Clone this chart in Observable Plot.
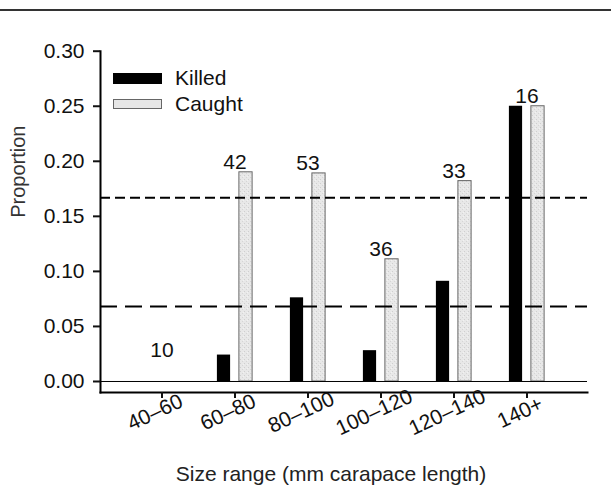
<!DOCTYPE html>
<html>
<head>
<meta charset="utf-8">
<script src="https://cdn.jsdelivr.net/npm/d3@7"></script>
<script src="https://cdn.jsdelivr.net/npm/@observablehq/plot@0.6"></script>
<style>
  html, body { margin: 0; padding: 0; background: #fff; }
  body { width: 611px; height: 487px; overflow: hidden; position: relative; font-family: "Liberation Sans", Arial, sans-serif; }
  .topline { height: 9px; border-bottom: 2px solid #333; }
  .legend { position: absolute; left: 113px; top: 65px; font-size: 21px; color: #111; }
  .legend .row { display: flex; align-items: center; height: 26px; }
  .legend .sw { width: 49px; height: 11px; margin-right: 13px; box-sizing: border-box; }
  .legend .killed { background: #000; }
  .legend .caught { background: #e6e6e6; border: 1px solid #666; height: 10px; }
</style>
</head>
<body>
<svg width="0" height="0" style="position:absolute">
  <defs>
    <pattern id="stipple" width="4" height="4" patternUnits="userSpaceOnUse">
      <rect width="4" height="4" fill="#e8e8e8"></rect>
      <rect x="0" y="0" width="1" height="1" fill="#cfcfcf"></rect>
      <rect x="2" y="2" width="1" height="1" fill="#d6d6d6"></rect>
      <rect x="3" y="1" width="1" height="1" fill="#f2f2f2"></rect>
    </pattern>
  </defs>
</svg>
<div class="topline"></div>
<div id="chart"></div>
<div class="legend">
  <div class="row"><div class="sw killed"></div><span>Killed</span></div>
  <div class="row"><div class="sw caught"></div><span>Caught</span></div>
</div>
<script>
const sizeClasses = ["40–60", "60–80", "80–100", "100–120", "120–140", "140+"];
const killed = [0, 0.024, 0.076, 0.028, 0.091, 0.25];
const caught = [0, 0.190, 0.189, 0.111, 0.182, 0.25];
const sampleSizes = [10, 42, 53, 36, 33, 16];
const referenceLines = [0.167, 0.068];
const yTicks = [0, 0.05, 0.10, 0.15, 0.20, 0.25, 0.30];

const rows = sizeClasses.map((s, i) => ({
  size: s, killed: killed[i], caught: caught[i], n: sampleSizes[i],
  top: Math.max(killed[i], caught[i])
}));

const font = "Liberation Sans, Arial, sans-serif";

const chart = Plot.plot({
  width: 611,
  height: 476,
  marginLeft: 100,
  marginRight: 24,
  marginTop: 39.7,
  marginBottom: 95,
  style: { fontFamily: font, color: "#111", background: "#fff" },
  x: { domain: sizeClasses, paddingInner: 0, paddingOuter: 0.3, axis: null },
  y: { domain: [-0.01, 0.30], axis: null },
  marks: [
    Plot.barY(rows, { x: "size", y: "caught", fill: "url(#stipple)", stroke: "#666", strokeWidth: 1, insetLeft: 40.9, insetRight: 18.9 }),
    Plot.barY(rows, { x: "size", y: "killed", fill: "#000", insetLeft: 18.9, insetRight: 40.9 }),
    Plot.ruleY([0], { stroke: "#000", strokeWidth: 1 }),
    Plot.ruleY([referenceLines[0]], { stroke: "#000", strokeWidth: 2, strokeDasharray: "10,5" }),
    Plot.ruleY([referenceLines[1]], { stroke: "#000", strokeWidth: 2, strokeDasharray: "17,8" }),
    Plot.frame({ anchor: "left", stroke: "#000", strokeWidth: 2 }),
    Plot.frame({ anchor: "bottom", stroke: "#000", strokeWidth: 2 }),
    Plot.axisY({ ticks: yTicks, tickFormat: ".2f", tickSize: 7, tickPadding: 9, fontSize: 21, strokeWidth: 2,
      label: null }),
    Plot.text(["Proportion"], { frameAnchor: "left", dx: -82, dy: -4, rotate: -90, fontSize: 20, fill: "#333" }),
    Plot.axisX({ tickSize: 6, strokeWidth: 2, tickFormat: () => "", label: null }),
    Plot.text(rows, { x: "size", text: "size", frameAnchor: "bottom", dy: 26, dx: -4, rotate: -25, textAnchor: "middle", fontSize: 21 }),
    Plot.text(rows.filter(d => d.top > 0), { x: "size", y: "top", text: "n", lineAnchor: "bottom", dy: -3, fontSize: 21 }),
    Plot.text(rows.filter(d => d.top === 0), { x: "size", y: "top", text: "n", lineAnchor: "bottom", dy: -24, fontSize: 21 }),
    Plot.text(["Size range (mm carapace length)"], { frameAnchor: "bottom", dy: 88, dx: -13, fontSize: 21, fill: "#222" })
  ]
});
document.getElementById("chart").appendChild(chart);
</script>
</body>
</html>
